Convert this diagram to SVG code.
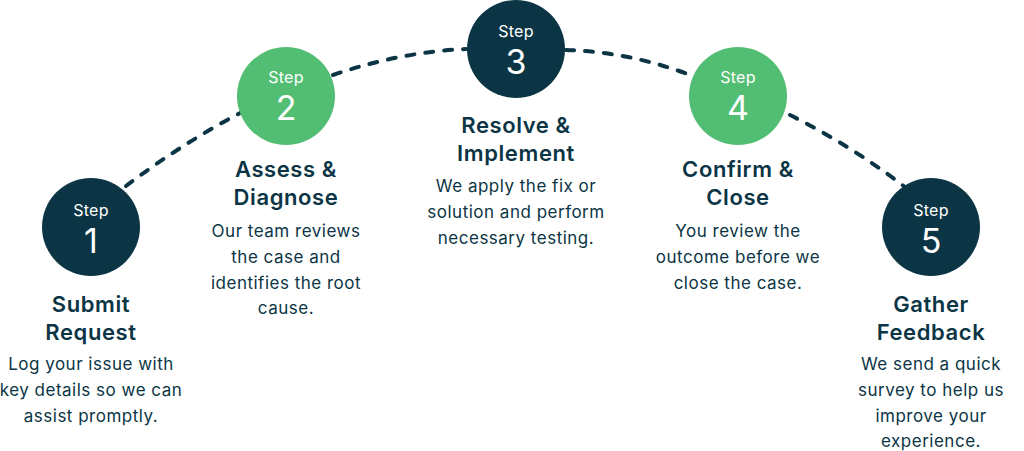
<svg xmlns="http://www.w3.org/2000/svg" width="1024" height="451" viewBox="0 0 1024 451">
<style>
.d{fill:#0b3545}.g{fill:#52be73}
.s{font-family:Inter,"Noto Sans",sans-serif;fill:#fff;text-anchor:middle;font-size:16px;letter-spacing:0.3px}
.n{font-family:Inter,"Noto Sans",sans-serif;fill:#fff;text-anchor:middle;font-size:34px}
.t{font-family:Inter,"Noto Sans",sans-serif;fill:#0b3545;text-anchor:middle;font-size:22px;font-weight:600;letter-spacing:0.6px}
.b{font-family:Inter,"Noto Sans",sans-serif;fill:#0b3545;text-anchor:middle;font-size:17px;letter-spacing:0.5px}
.c{fill:none;stroke:#0b3545;stroke-width:4;stroke-dasharray:8 11;stroke-linecap:round}
</style>
<rect width="1024" height="451" fill="#fff"/>
<g id="connectors">
<path class="c" d="M126,186 Q180,145 240,113"/>
<path class="c" d="M333,75 Q400,52 466,49"/>
<path class="c" d="M566,50 Q630,52 690,75"/>
<path class="c" d="M790,115 Q850,145 905,187"/>
</g>
<g id="step1"><circle class="d" cx="91" cy="227" r="49"/><text class="s" x="91" y="216">Step</text><text class="n" x="91" y="253">1</text>
<text class="t" x="91" y="312">Submit</text><text class="t" x="91" y="340">Request</text>
<text class="b" x="91" y="370">Log your issue with</text><text class="b" x="91" y="396">key details so we can</text><text class="b" x="91" y="422">assist promptly.</text></g>
<g id="step2"><circle class="g" cx="286" cy="96" r="49"/><text class="s" x="286" y="83">Step</text><text class="n" x="286" y="120">2</text>
<text class="t" x="286" y="177">Assess &amp;</text><text class="t" x="286" y="205">Diagnose</text>
<text class="b" x="286" y="237">Our team reviews</text><text class="b" x="286" y="263">the case and</text><text class="b" x="286" y="289">identifies the root</text><text class="b" x="286" y="314">cause.</text></g>
<g id="step3"><circle class="d" cx="516" cy="49" r="49"/><text class="s" x="516" y="37">Step</text><text class="n" x="516" y="74">3</text>
<text class="t" x="516" y="133">Resolve &amp;</text><text class="t" x="516" y="161">Implement</text>
<text class="b" x="516" y="192">We apply the fix or</text><text class="b" x="516" y="218">solution and perform</text><text class="b" x="516" y="244">necessary testing.</text></g>
<g id="step4"><circle class="g" cx="738" cy="96" r="49"/><text class="s" x="738" y="83">Step</text><text class="n" x="738" y="120">4</text>
<text class="t" x="738" y="177">Confirm &amp;</text><text class="t" x="738" y="205">Close</text>
<text class="b" x="738" y="237">You review the</text><text class="b" x="738" y="263">outcome before we</text><text class="b" x="738" y="289">close the case.</text></g>
<g id="step5"><circle class="d" cx="931" cy="227" r="49"/><text class="s" x="931" y="216">Step</text><text class="n" x="931" y="253">5</text>
<text class="t" x="931" y="312">Gather</text><text class="t" x="931" y="340">Feedback</text>
<text class="b" x="931" y="370">We send a quick</text><text class="b" x="931" y="396">survey to help us</text><text class="b" x="931" y="422">improve your</text><text class="b" x="931" y="447">experience.</text></g>
</svg>
